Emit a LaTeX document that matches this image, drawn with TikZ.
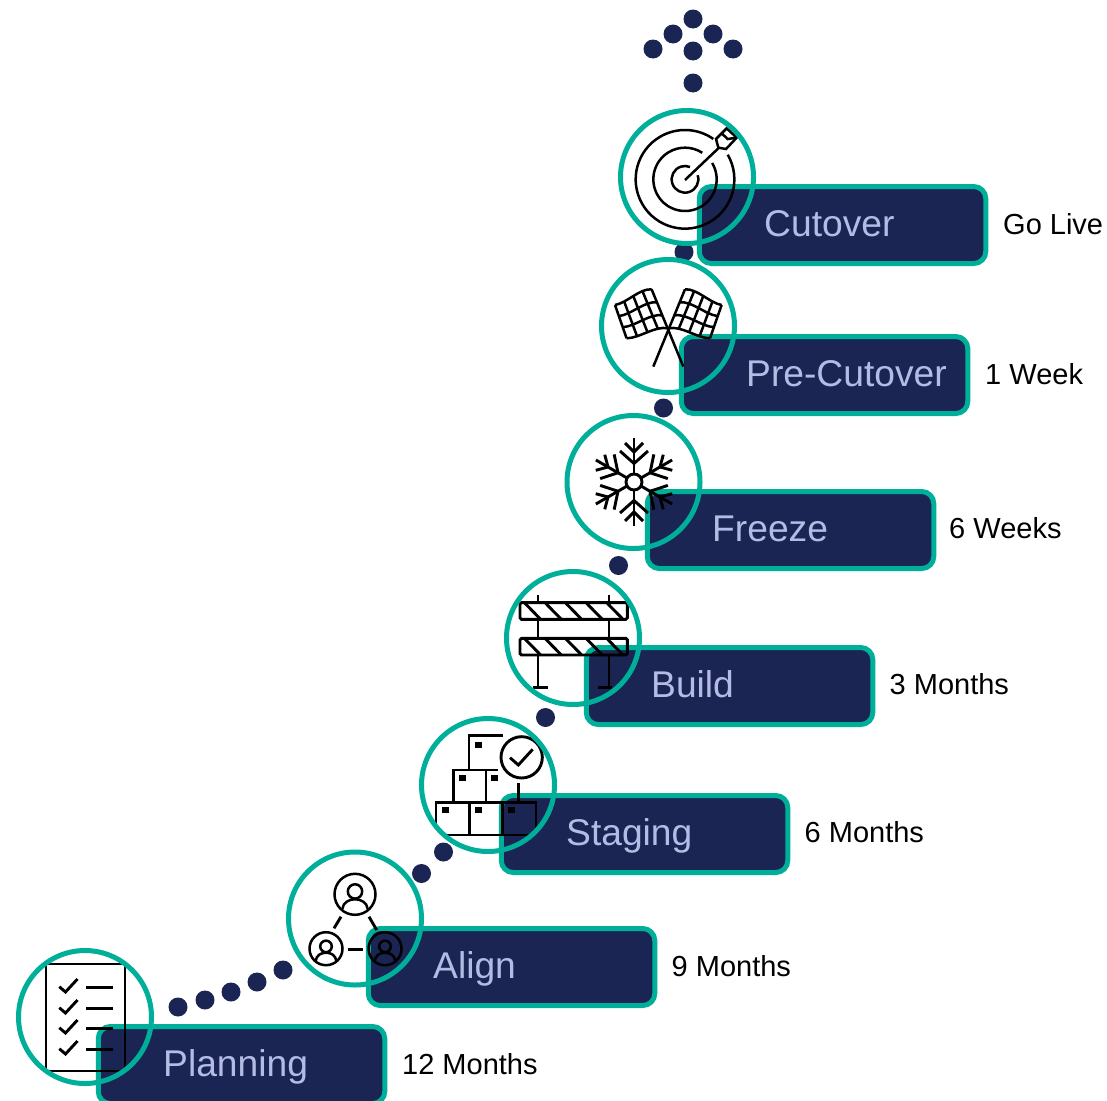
\documentclass[tikz,border=0pt]{standalone}
\usepackage{fontspec}
\setmainfont{Liberation Sans}
\definecolor{teal1}{HTML}{00AF9A}
\definecolor{navy1}{HTML}{1A2553}
\definecolor{lav1}{HTML}{B3BCE4}
\tikzset{
  stagebox/.style={draw=teal1,fill=navy1,line width=5pt,rounded corners=12pt,minimum width=286.5pt,minimum height=77pt,inner sep=0pt,outer sep=0pt},
  stagetitle/.style={text=lav1,font=\fontsize{37.2}{37.2}\selectfont,anchor=base west,inner sep=0pt},
  stagetime/.style={text=black,font=\fontsize{29}{29}\selectfont,anchor=base west,inner sep=0pt},
  dotnode/.style={circle,fill=navy1,minimum size=19pt,inner sep=0pt,outer sep=0pt},
  icon/.style={line width=2.9pt,draw=black,line cap=butt},
  fineicon/.style={line width=2.5pt,draw=black,line cap=butt},
  ring/.style={draw=teal1,line width=5pt,circle,minimum size=133pt,inner sep=0pt,outer sep=0pt},
  disc/.style={fill=white,circle,minimum size=133pt,inner sep=0pt,outer sep=0pt}
}
% #1 name, #2 cx, #3 cy, #4 box left, #5 box top, #6 title, #7 time, #8 icon
\newcommand\stage[8]{%
  \node[disc] (#1disc) at (#2,#3) {};
  \pgfmathsetmacro\bcx{#4+145.5}\pgfmathsetmacro\bcy{#5+41}
  \node[stagebox] (#1box) at (\bcx,\bcy) {};
  \pgfmathsetmacro\ttx{#4+67}\pgfmathsetmacro\tty{#5+52.5}
  \node[stagetitle] (#1title) at (\ttx,\tty) {#6};
  \pgfmathsetmacro\tmx{#4+305.5}\pgfmathsetmacro\tmy{#5+50}
  \node[stagetime] (#1time) at (\tmx,\tmy) {#7};
  \begin{scope}
    \clip (#2,#3) circle (66);
    #8
  \end{scope}
  \node[ring] (#1ring) at (#2,#3) {};
}
\newcommand\personicon[3]{%
  \begin{scope}[shift={(#1,#2)},scale=#3]
    \draw[fineicon] (0,0) circle (1);
    \draw[fineicon] (0,-.14) circle (.35);
    \draw[fineicon] (-.62,.72) .. controls (-.55,.08) and (.55,.08) .. (.62,.72);
  \end{scope}}
\newcommand\flaghalf{%
  \foreach \ft in {0,.3333,.6667,1}{
    \pgfmathsetmacro\fax{-53.3+\ft*11.6}\pgfmathsetmacro\fay{-23.3+\ft*33.3}
    \pgfmathsetmacro\fbx{-16.7+\ft*16.7}\pgfmathsetmacro\fby{-39+\ft*39}
    \pgfmathsetmacro\fcx{\fax+(\fbx-\fax)/3}\pgfmathsetmacro\fcy{\fay+(\fby-\fay)/3+3}
    \pgfmathsetmacro\fdx{\fax+(\fbx-\fax)*2/3}\pgfmathsetmacro\fdy{\fay+(\fby-\fay)*2/3-6}
    \draw[fineicon] (\fax,\fay) .. controls (\fcx,\fcy) and (\fdx,\fdy) .. (\fbx,\fby);
  }
  \foreach \fs in {0,.25,.5,.75}{
    \pgfmathsetmacro\fw{3*\fs*(1-\fs)*(1-\fs)*3-3*\fs*\fs*(1-\fs)*6}
    \pgfmathsetmacro\fux{-53.3+\fs*36.6}\pgfmathsetmacro\fuy{-23.3-\fs*15.7+\fw}
    \pgfmathsetmacro\fvx{-41.7+\fs*41.7}\pgfmathsetmacro\fvy{10-10*\fs+\fw}
    \draw[fineicon] (\fux,\fuy) -- (\fvx,\fvy);
  }
  \draw[fineicon] (-16.7,-39) -- (15,38.3);
}
\begin{document}
\begin{tikzpicture}[x=1pt,y=1pt,yscale=-1]
\useasboundingbox (0,0) rectangle (1107,1100);
% dots
\foreach \n/\a/\b in {a/693/19,b/673/34,c/713/34,d/653/49,e/693/51,f/733/49,g/693/83,h/684/252,i/663.5/408,j/618.5/565.5,k/545.5/717.5,l/443.5/852,m/421.5/873.5,n/283/970,o/257/982,p/231/992,q/205/1000,r/178/1007}
  \node[dotnode] (dot\n) at (\a,\b) {};

\stage{planning}{85}{1017}{96}{1024}{Planning}{\kern.5pt 12 Months}{
  \draw[fineicon] (46,964) rectangle (125,1071);
  \foreach \d in {0,21,41,62}{
    \draw[icon] (59.3,986.7+\d) -- (65.5,992+\d) -- (77.5,979+\d);
  }
  \foreach \d in {987.3,1008.3,1028.3,1049.3}{\draw[icon] (86,\d) -- (113,\d);}
}
\stage{align}{355}{918.5}{366}{926}{Align}{9 Months}{
  \personicon{355}{894.3}{20.5}
  \personicon{326}{948.7}{16.5}
  \personicon{385}{948.7}{16.5}
  \draw[icon] (341,916.7) -- (334,928.3);
  \draw[icon] (369,916.7) -- (376.7,930);
  \draw[icon] (347.7,949.3) -- (363.3,949.3);
}
\stage{staging}{488}{785}{499}{793}{Staging}{\raisebox{1pt}{6 Months}}{
  \begin{scope}[shift={(280,710)},scale=.33333]
    \draw[icon] (468,375) -- (468,277) -- (768,277) -- (768,375) -- cycle;
    \draw[icon] (568,277) -- (568,375) (668,277) -- (668,375);
    \draw[icon] (520,277) -- (520,180) -- (655,180) (618,180) -- (618,277);
    \draw[icon] (567,180) -- (567,77) -- (668,77);
    \foreach \p/\q in {596/105,547/203,643/203,496/300,596/300,694/300}
      \fill (\p-10,\q-9) rectangle (\p+10,\q+9);
    \draw[icon] (725,142) circle (62);
    \draw[icon] (690,143) -- (715,165) -- (758,118);
    \draw[icon] (716,220) -- (716,275);
  \end{scope}
}
\stage{build}{573}{638}{584}{645}{Build}{\raisebox{1pt}{3 Months}}{
  \begin{scope}[shift={(500,410)},scale=.33333]
    \foreach \y in {578,685}{
      \draw[icon,rounded corners=1.5pt] (60,\y) rectangle (382,\y+50);
      \foreach \x in {75,137,198,260,322}{
        \draw[icon] (\x,\y+2) -- (\x+47,\y+50);
      }
    }
    \foreach \x in {114,327}{
      \draw[icon] (\x,555) -- (\x,578) (\x,628) -- (\x,685) (\x,735) -- (\x,832);
    }
    \draw[icon] (100,832) -- (145,832) (295,832) -- (335,832);
  \end{scope}
}
\stage{freeze}{633.5}{482}{645}{489}{Freeze}{\kern-1.5pt\raisebox{1pt}{6 Weeks}}{
  \begin{scope}[shift={(634,482)}]
    \draw[icon] (0,0) circle (8);
    \foreach \r in {0,60,120,180,240,300}{
      \begin{scope}[rotate=\r]
        \draw[icon] (0,-8) -- (0,-44);
        \draw[icon] (-9,-39) -- (0,-30) -- (9,-39);
        \draw[icon] (-14,-31) -- (0,-18.5) -- (14,-31);
      \end{scope}
    }
  \end{scope}
}
\stage{precut}{668}{326}{679}{334}{Pre-Cutover}{\kern.5pt 1 Week}{
  \begin{scope}[shift={(668.3,328.3)}]
    \flaghalf
    \begin{scope}[xscale=-1]\flaghalf\end{scope}
  \end{scope}
}
\stage{cutover}{687}{177}{697}{184}{Cutover}{\kern.5pt Go Live}{
  \begin{scope}[shift={(590,100)},scale=.33333]
    \draw[fineicon] (285,238) ++(-18:40) arc[start angle=-18,end angle=292,radius=40];
    \draw[fineicon] (285,238) ++(-31:95) arc[start angle=-31,end angle=303,radius=95];
    \draw[fineicon] (285,238) ++(-30:148) arc[start angle=-30,end angle=305,radius=148];
    \draw[fineicon] (285,240) -- (385,145);
    \draw[fineicon] (385,143) -- (378,117) -- (410,85) -- (440,113) -- (408,147) -- cycle;
    \draw[fineicon] (395,100) -- (413,117) -- (440,113);
  \end{scope}
}
\end{tikzpicture}
\end{document}
